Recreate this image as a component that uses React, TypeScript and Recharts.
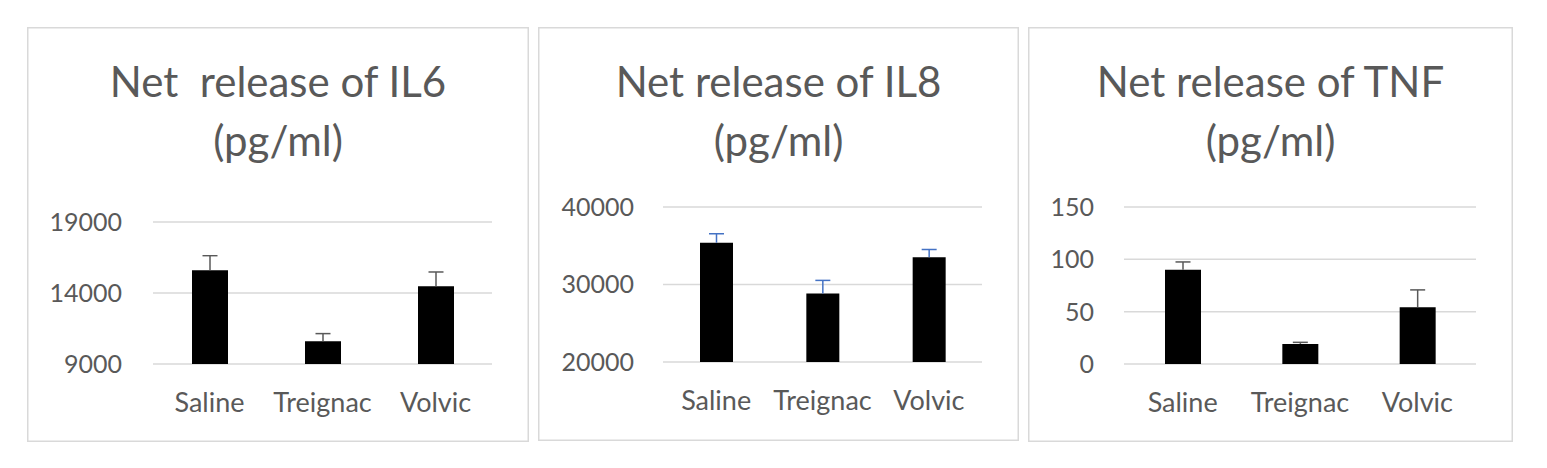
import { BarChart, Bar, XAxis, YAxis, CartesianGrid } from 'recharts';

const categories = ['Saline', 'Treignac', 'Volvic'];

const il6Values = [15600, 10600, 14470];
const il6Errors = [1030, 540, 1010];
const il6Ticks = [9000, 14000, 19000];

const il8Values = [35400, 28830, 33510];
const il8Errors = [1150, 1700, 1000];
const il8Ticks = [20000, 30000, 40000];

const tnfValues = [90, 19.2, 54.3];
const tnfErrors = [7.5, 1.5, 16.5];
const tnfTicks = [0, 50, 100, 150];

const FONT = "Lato, 'Liberation Sans', sans-serif";
const TEXT = '#595959';
const GRID = '#d9d9d9';

const errorShape = (color: string) => (props: any) => {
    const { x, y, width, height } = props;
    const cx = x + width / 2;
    return (
        <g>
            <line x1={cx} x2={cx} y1={y} y2={y + height} stroke={color} strokeWidth={1.5} />
            <line x1={cx - 7.5} x2={cx + 7.5} y1={y} y2={y} stroke={color} strokeWidth={1.5} />
        </g>
    );
};

type PanelProps = {
    left: number;
    top: number;
    width: number;
    height: number;
    title: string[];
    values: number[];
    errors: number[];
    ticks: number[];
    errColor: string;
    barSize: number;
    plotLeft: number;
    plotRight: number;
    plotTop: number;
    plotBottom: number;
    yTickMargin: number;
};

const Panel = (p: PanelProps) => {
    const data = categories.map((name, i) => ({ name, value: p.values[i], err: p.errors[i] }));
    const yTickStyle = { fill: TEXT, fontSize: 25, fontFamily: FONT };
    const xTickStyle = { fill: TEXT, fontSize: 27, fontFamily: FONT };
    return (
        <div
            style={{
                position: 'absolute',
                left: p.left,
                top: p.top,
                width: p.width,
                height: p.height,
                boxShadow: `inset 0 0 0 1.5px ${GRID}`,
            }}
        >
            <div
                style={{
                    position: 'absolute',
                    left: 0,
                    top: 25,
                    width: p.width,
                    textAlign: 'center',
                    fontFamily: FONT,
                    fontSize: 42,
                    lineHeight: '59px',
                    color: TEXT,
                    whiteSpace: 'pre',
                }}
            >
                {p.title.map((t, i) => (
                    <div key={i}>{t}</div>
                ))}
            </div>
            <div style={{ position: 'absolute', left: 0, top: 0 }}>
                <BarChart
                    width={p.width}
                    height={p.height}
                    data={data}
                    margin={{ top: p.plotTop, right: p.width - p.plotRight, bottom: p.height - p.plotBottom - 30, left: 0 }}
                >
                    <CartesianGrid vertical={false} stroke={GRID} strokeWidth={1.5} />
                    <XAxis
                        dataKey="name"
                        axisLine={false}
                        tickLine={false}
                        tickMargin={23}
                        height={30}
                        interval={0}
                        tick={xTickStyle}
                    />
                    <YAxis
                        type="number"
                        domain={[p.ticks[0], p.ticks[p.ticks.length - 1]]}
                        ticks={p.ticks}
                        allowDataOverflow
                        axisLine={false}
                        tickLine={false}
                        width={p.plotLeft}
                        tickMargin={p.yTickMargin}
                        interval={0}
                        tick={yTickStyle}
                    />
                    <Bar dataKey="value" stackId="a" fill="#000000" barSize={p.barSize} isAnimationActive={false} />
                    <Bar
                        dataKey="err"
                        stackId="a"
                        fill="none"
                        barSize={p.barSize}
                        isAnimationActive={false}
                        shape={errorShape(p.errColor)}
                    />
                </BarChart>
            </div>
        </div>
    );
};

const App = () => (
    <div style={{ position: 'absolute', left: 0, top: 0, width: 1547, height: 468, background: '#ffffff' }}>
        <Panel
            left={27}
            top={27}
            width={502}
            height={415}
            title={['Net  release of IL6', '(pg/ml)']}
            values={il6Values}
            errors={il6Errors}
            ticks={il6Ticks}
            errColor="#595959"
            barSize={36}
            plotLeft={126}
            plotRight={465}
            plotTop={195}
            plotBottom={337}
            yTickMargin={25}
        />
        <Panel
            left={538}
            top={27}
            width={481}
            height={414}
            title={['Net release of IL8', '(pg/ml)']}
            values={il8Values}
            errors={il8Errors}
            ticks={il8Ticks}
            errColor="#4472C4"
            barSize={33}
            plotLeft={125}
            plotRight={444}
            plotTop={180}
            plotBottom={335}
            yTickMargin={23}
        />
        <Panel
            left={1028}
            top={27}
            width={485}
            height={415}
            title={['Net release of TNF', '(pg/ml)']}
            values={tnfValues}
            errors={tnfErrors}
            ticks={tnfTicks}
            errColor="#595959"
            barSize={36}
            plotLeft={96}
            plotRight={448}
            plotTop={180}
            plotBottom={337}
            yTickMargin={24}
        />
    </div>
);

export default App;
